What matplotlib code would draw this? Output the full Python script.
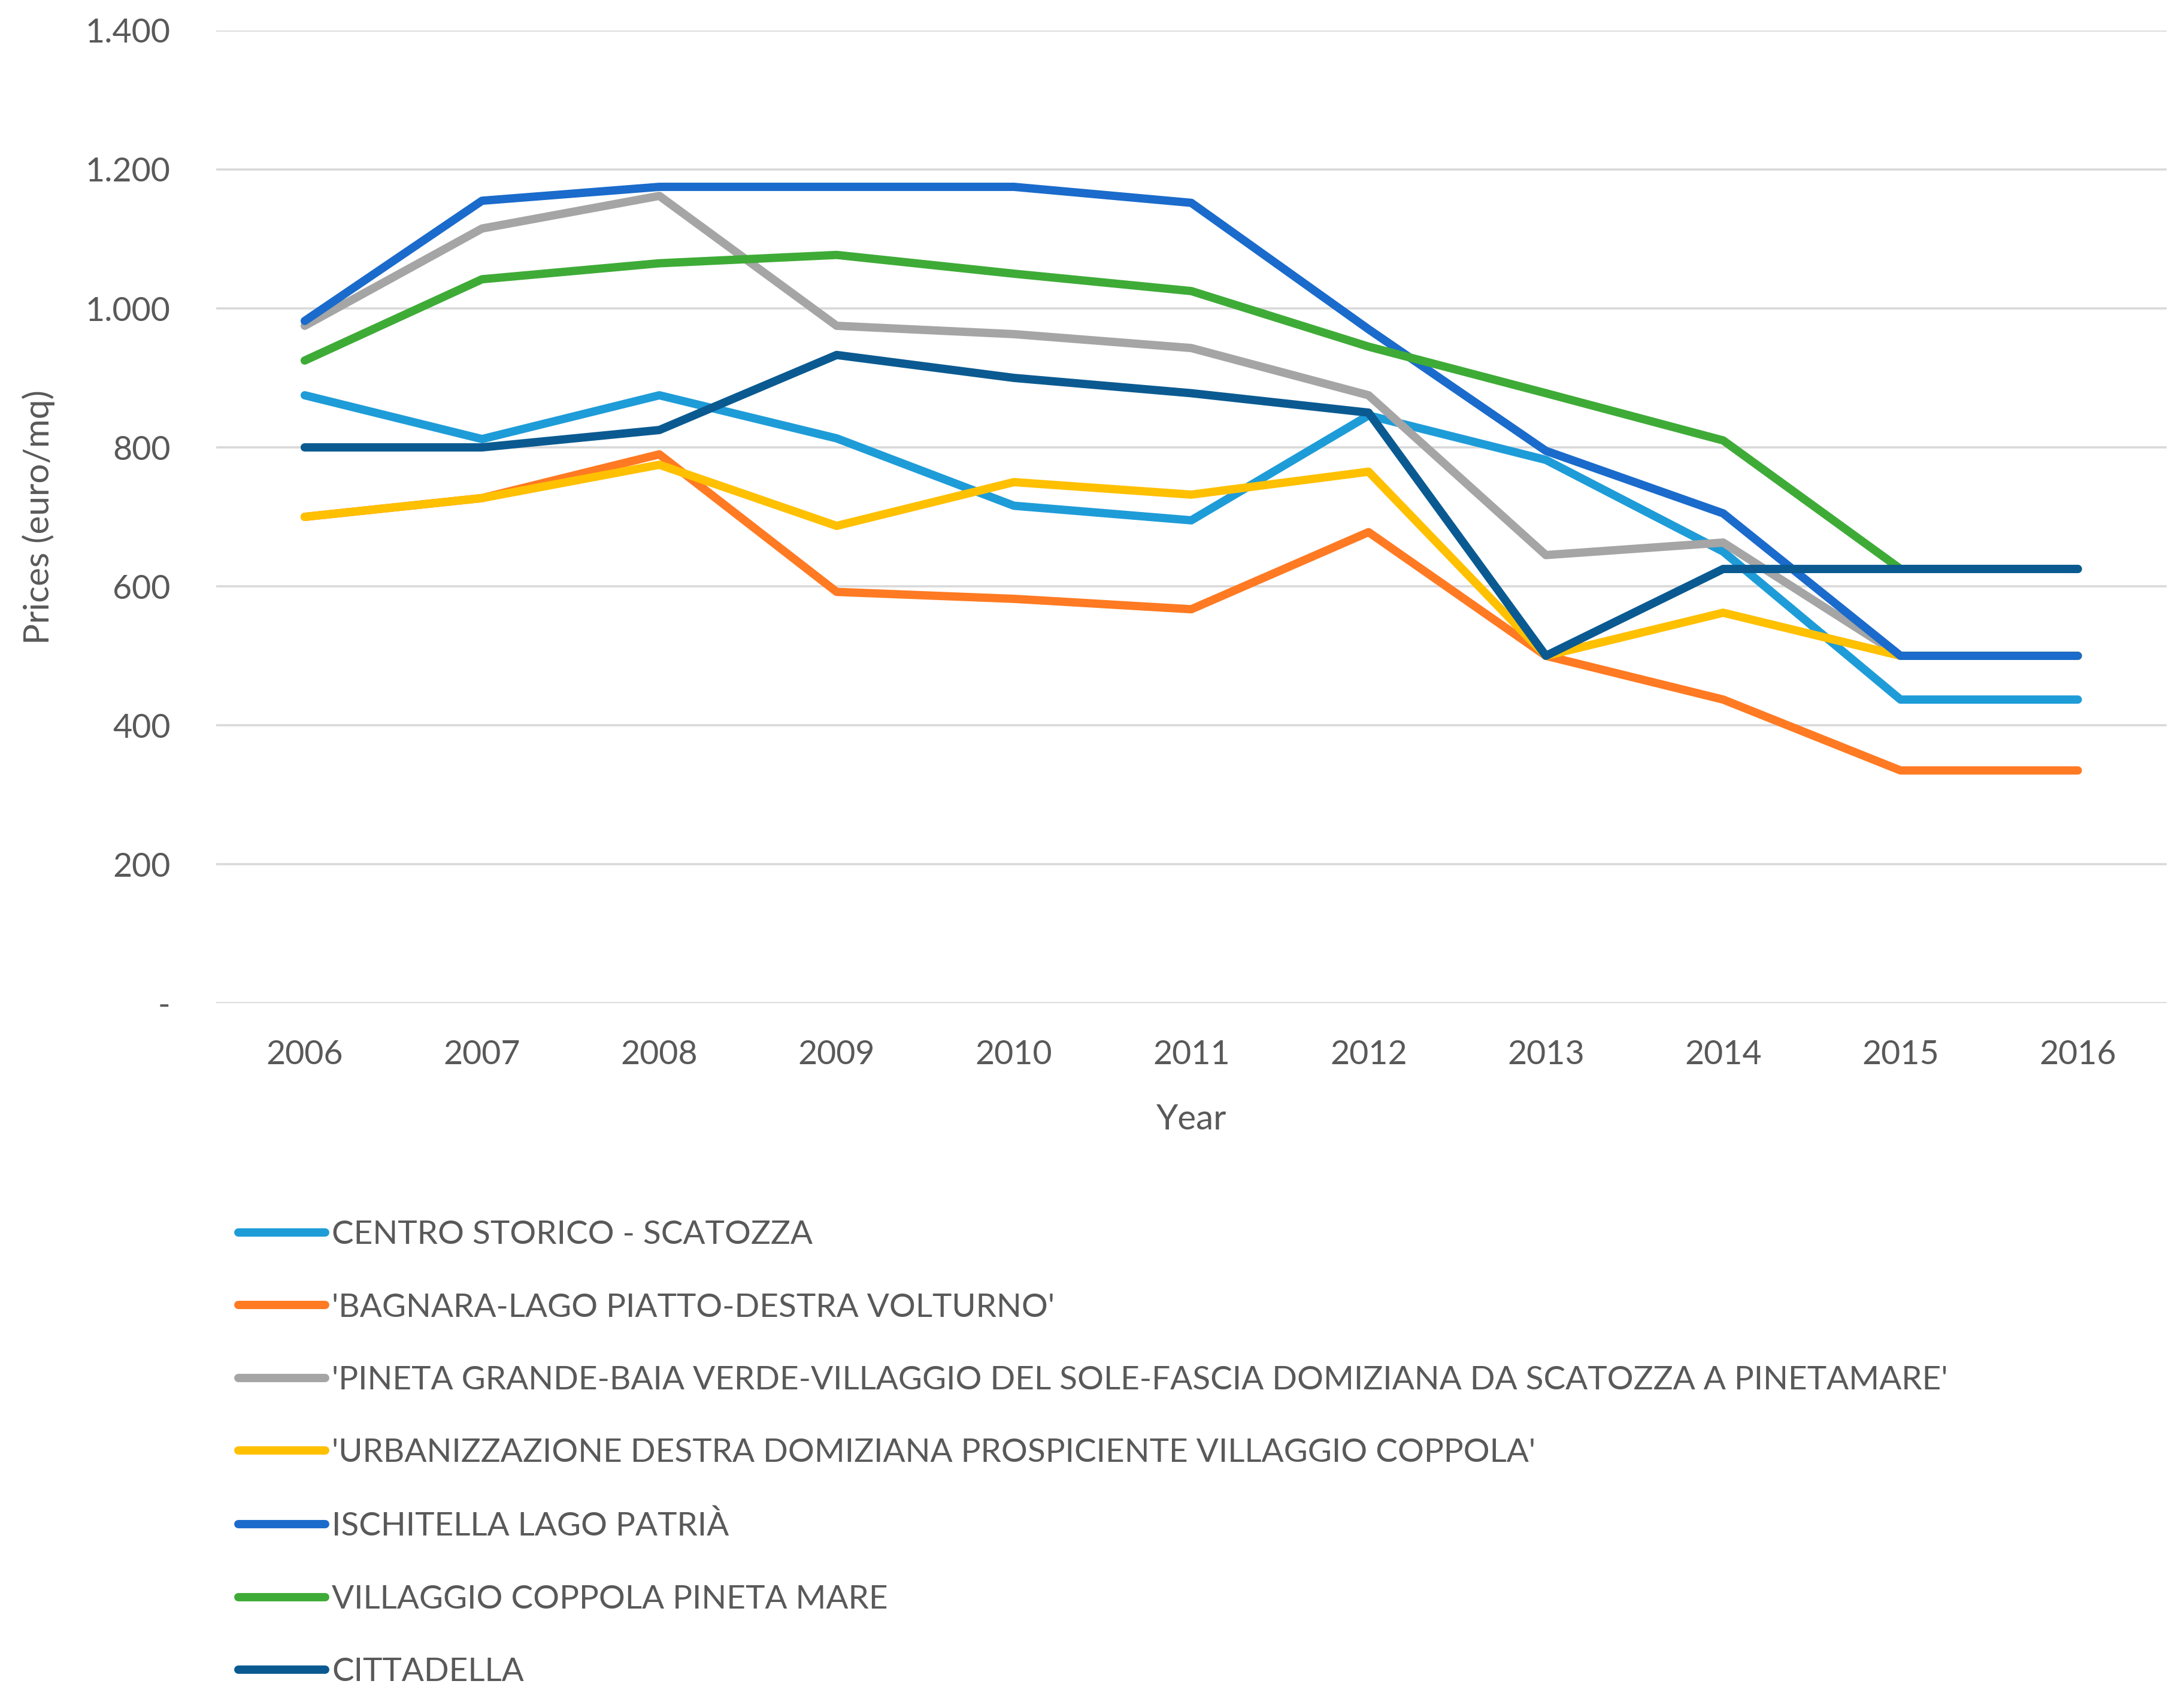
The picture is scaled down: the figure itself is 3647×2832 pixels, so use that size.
import numpy as np
import matplotlib
matplotlib.use("Agg")
import matplotlib.pyplot as plt
from matplotlib.ticker import FuncFormatter, MultipleLocator

plt.rcParams['font.family'] = ['Lato', 'DejaVu Sans']

#--- dati -----------------------------------------------------------------------
years = [2006, 2007, 2008, 2009, 2010, 2011, 2012, 2013, 2014, 2015, 2016]

centro_storico = [875, 812, 875, 813, 716, 695, 846, 782, 650, 437, 437]
bagnara = [700, 727, 790, 592, 582, 567, 678, 500, 437, 335, 335]
pineta_grande = [975, 1115, 1162, 975, 963, 943, 875, 645, 663, 500, 500]
urbanizzazione = [700, 727, 775, 687, 750, 732, 765, 500, 562, 500, 500]
ischitella = [982, 1155, 1175, 1175, 1175, 1152, 970, 795, 705, 500, 500]
villaggio_coppola = [925, 1042, 1065, 1077, 1050, 1025, 945, 878, 810, 625, 625]
cittadella = [800, 800, 825, 933, 900, 878, 850, 500, 625, 625, 625]

labels = [
    "CENTRO STORICO - SCATOZZA",
    "'BAGNARA-LAGO PIATTO-DESTRA VOLTURNO'",
    "'PINETA GRANDE-BAIA VERDE-VILLAGGIO DEL SOLE-FASCIA DOMIZIANA DA SCATOZZA A PINETAMARE'",
    "'URBANIZZAZIONE DESTRA DOMIZIANA PROSPICIENTE VILLAGGIO COPPOLA'",
    "ISCHITELLA LAGO PATRIÀ",
    "VILLAGGIO COPPOLA PINETA MARE",
    "CITTADELLA",
]
series = [centro_storico, bagnara, pineta_grande, urbanizzazione,
          ischitella, villaggio_coppola, cittadella]
colors = ['#1E9CD8', '#FF7A22', '#A5A5A5', '#FFC000',
          '#1A6BCB', '#3EAB37', '#0A5A91']

text_col = '#595959'

fig = plt.figure(figsize=(36.48, 28.32), dpi=100)
ax = fig.add_axes([0.0989, 0.4085, 0.8928, 0.5735])

for vals, lab, col in zip(series, labels, colors):
    ax.plot(years, vals, color=col, linewidth=10, label=lab,
            solid_capstyle='round', solid_joinstyle='round')

ax.set_xlim(2005.5, 2016.5)
ax.set_ylim(0, 1400)
ax.set_xticks(years)
ax.yaxis.set_major_locator(MultipleLocator(200))

def it_fmt(v, pos):
    if v == 0:
        return "-"
    return "{:,.0f}".format(v).replace(",", ".")

ax.yaxis.set_major_formatter(FuncFormatter(it_fmt))

ax.grid(axis='y', color='#D9D9D9', linewidth=2.6)
ax.set_axisbelow(True)
for s in ax.spines.values():
    s.set_visible(False)
ax.tick_params(axis='both', length=0, labelsize=40, labelcolor=text_col)
ax.tick_params(axis='y', pad=55)
ax.tick_params(axis='x', pad=44)

ax.set_xlabel("Year", fontsize=42, color=text_col, labelpad=40)
ax.set_ylabel("Prices (euro/mq)", fontsize=42, color=text_col, labelpad=36)

fig.legend(loc='upper left', bbox_to_anchor=(0.103, 0.2884), frameon=False,
           fontsize=39.5, labelcolor=text_col, handlelength=2.65,
           handletextpad=0.2, labelspacing=1.32, borderaxespad=0)

fig.savefig("out.png", dpi=100)
